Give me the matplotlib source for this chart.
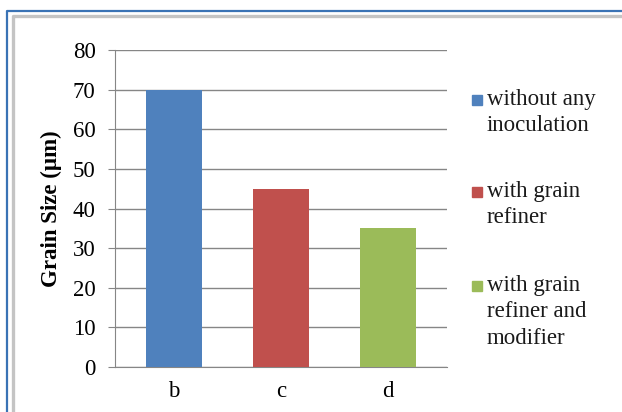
import matplotlib.pyplot as plt
from matplotlib.lines import Line2D
from matplotlib.patches import Rectangle

plt.rcParams['font.family'] = ['Liberation Serif', 'DejaVu Serif']

# Grain size per sample
samples = ['b', 'c', 'd']
grain_size = [70, 45, 35]
series_labels = ['without any\ninoculation', 'with grain\nrefiner', 'with grain\nrefiner and\nmodifier']
colors = ['#4F81BD', '#C0504D', '#9BBB59']
yticks = [0, 10, 20, 30, 40, 50, 60, 70, 80]

W, H = 622, 412
fig = plt.figure(figsize=(W / 100, H / 100), dpi=100)

def fx(px):
    return px / W

def fy(py):
    return 1 - py / H

ax = fig.add_axes([fx(115), fy(367), fx(447) - fx(115), fy(50) - fy(367)])
ax.bar(range(len(samples)), grain_size, width=0.53, color=colors, zorder=3)
ax.set_xlim(-0.55, 2.55)
ax.set_ylim(0, 80)
ax.set_yticks(yticks)
ax.set_xticks(range(len(samples)))
ax.set_xticklabels(samples, fontsize=16.5)
ax.tick_params(axis='y', labelsize=16.5, length=5, color='#868686', pad=9)
ax.tick_params(axis='x', length=0, pad=10)
ax.grid(axis='y', color='#868686', linewidth=1, zorder=0)
for s in ['top', 'right']:
    ax.spines[s].set_visible(False)
for s in ['left', 'bottom']:
    ax.spines[s].set_color('#868686')
ax.set_ylabel('Grain Size (µm)', fontsize=16.5, fontweight='bold', labelpad=8)

# Legend, one square per series next to its label
legend_rows = [100, 192, 286]
for lab, col, y in zip(series_labels, colors, legend_rows):
    fig.patches.append(Rectangle((fx(472), fy(y + 5)), fx(10), fy(0) - fy(10),
                                 color=col, transform=fig.transFigure))
    fig.text(fx(487), fy(y - 11), lab, fontsize=16.5, va='top', ha='left',
             linespacing=1.33, color='#1a1a1a')

# Frame around the chart
fig.add_artist(Line2D([fx(7), fx(7), fx(W)], [0, fy(11), fy(11)],
                      color='#3A73B5', linewidth=1.6, transform=fig.transFigure))
fig.add_artist(Line2D([fx(13), fx(13), fx(W)], [0, fy(15.5), fy(15.5)],
                      color='#C4C4C4', linewidth=2.4, transform=fig.transFigure))

fig.savefig('out.png', dpi=100)
